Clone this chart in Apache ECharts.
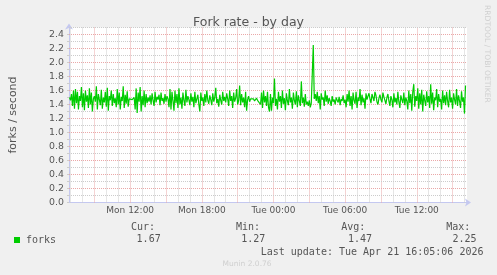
<!DOCTYPE html>
<html>
<head>
<meta charset="utf-8">
<script src="https://cdn.jsdelivr.net/npm/echarts@6/dist/echarts.min.js"></script>
<style>
html,body{margin:0;padding:0;background:#f0f0f0;}
#chart{width:497px;height:275px;}
</style>
</head>
<body>
<div id="chart"></div>
<script>
// ---- data (fork rate, 5-minute samples, Mon 06:55 .. Tue 16:05) ----
const sampleStartMin = 415;   // minutes since Mon 00:00
const sampleStepMin = 5;
const forkRate = [
1.50,1.46,1.55,1.38,1.60,1.34,1.62,1.42,1.58,1.33,1.52,1.45,1.65,1.36,1.56,1.32,1.60,1.44,1.53,1.35,
1.63,1.40,1.57,1.30,1.48,1.52,1.44,1.66,1.33,1.55,1.47,1.39,1.61,1.34,1.50,1.43,1.58,1.37,1.64,1.31,
1.52,1.46,1.60,1.38,1.55,1.42,1.49,1.36,1.62,1.40,1.57,1.33,1.51,1.45,1.66,1.35,1.54,1.41,1.59,1.37,
1.48,1.46,1.49,1.47,1.45,1.50,1.33,1.63,1.28,1.57,1.44,1.65,1.30,1.52,1.39,1.60,1.36,1.55,1.42,1.50,
1.44,1.53,1.40,1.56,1.46,1.38,1.58,1.43,1.51,1.47,1.54,1.39,1.57,1.45,1.49,1.41,1.55,1.44,1.52,1.48,
1.36,1.62,1.33,1.58,1.45,1.31,1.60,1.42,1.55,1.35,1.63,1.40,1.50,1.34,1.57,1.46,1.38,1.61,1.43,1.52,
1.47,1.39,1.56,1.44,1.51,1.36,1.58,1.42,1.48,1.54,1.40,1.30,1.57,1.45,1.50,1.38,1.55,1.43,1.60,1.46,
1.41,1.53,1.47,1.39,1.56,1.44,1.50,1.64,1.42,1.48,1.37,1.54,1.46,1.40,1.58,1.45,1.51,1.43,1.56,1.48,
1.38,1.60,1.45,1.52,1.35,1.57,1.44,1.49,1.62,1.40,1.46,1.67,1.39,1.55,1.43,1.50,1.36,1.58,1.31,1.47,
1.52,1.44,1.48,1.47,1.46,1.48,1.45,1.47,1.49,1.46,1.48,1.47,1.40,1.57,1.35,1.60,1.43,1.52,1.38,1.58,
1.36,1.30,1.55,1.31,1.50,1.42,1.77,1.38,1.48,1.33,1.58,1.44,1.52,1.35,1.60,1.41,1.49,1.32,1.56,1.45,
1.39,1.62,1.43,1.50,1.34,1.57,1.46,1.40,1.59,1.36,1.53,1.45,1.38,1.73,1.42,1.50,1.37,1.55,1.40,1.44,
1.38,1.46,1.36,1.42,1.40,2.25,1.48,1.55,1.45,1.58,1.42,1.52,1.33,1.56,1.47,1.50,1.38,1.60,1.44,1.53,
1.41,1.49,1.45,1.38,1.52,1.44,1.47,1.40,1.50,1.46,1.43,1.51,1.39,1.48,1.45,1.53,1.42,1.47,1.36,1.55,
1.44,1.60,1.38,1.52,1.33,1.57,1.46,1.41,1.58,1.35,1.50,1.45,1.62,1.39,1.54,1.43,1.49,1.34,1.56,1.47,
1.52,1.56,1.48,1.42,1.55,1.50,1.45,1.58,1.53,1.44,1.40,1.49,1.54,1.47,1.43,1.57,1.51,1.46,1.41,1.50,
1.55,1.45,1.38,1.52,1.47,1.36,1.56,1.43,1.49,1.40,1.58,1.44,1.35,1.53,1.47,1.42,1.57,1.39,1.50,1.45,
1.33,1.60,1.42,1.55,1.31,1.58,1.69,1.37,1.52,1.45,1.63,1.34,1.56,1.40,1.61,1.30,1.54,1.46,1.38,1.59,
1.43,1.52,1.35,1.69,1.41,1.57,1.32,1.50,1.46,1.62,1.36,1.55,1.44,1.48,1.33,1.60,1.42,1.53,1.39,1.58,
1.45,1.36,1.61,1.43,1.50,1.34,1.56,1.47,1.40,1.62,1.38,1.53,1.45,1.35,1.59,1.44,1.50,1.27,1.67
];

// x axis: minutes since Mon 00:00
const xMinMin = 412.5;   // ~Mon 06:52
const xMaxMin = 2412.5;  // ~Tue 16:12
const xTickMinutes = [720, 1080, 1440, 1800, 2160];
const xTickLabels = ['Mon 12:00', 'Mon 18:00', 'Tue 00:00', 'Tue 06:00', 'Tue 12:00'];

const yMin = 0, yMax = 2.5, yStep = 0.1;

const title = 'Fork rate - by day';
const yName = 'forks / second';
const seriesName = 'forks';
const statNames = ['Cur:', 'Min:', 'Avg:', 'Max:'];
const statValues = ['1.67', '1.27', '1.47', '2.25'];
const lastUpdate = 'Last update: Tue Apr 21 16:05:06 2026';
const sideText = 'RRDTOOL / TOBI OETIKER';
const footer = 'Munin 2.0.76';

// ---- build ----
const seriesData = forkRate.map((v, i) => [sampleStartMin + i * sampleStepMin, v]);

const RED = '#eaa8a8', GRAY = '#cccccc', AXIS = '#c4c8f0';
const dash = [1, 1];

const gridLines = [];
// vertical grid: every hour (gray), every 3 hours (red)
for (let m = Math.ceil(xMinMin / 60) * 60; m <= xMaxMin; m += 60) {
  gridLines.push({ xAxis: m, lineStyle: { color: m % 180 === 0 ? RED : GRAY, type: dash, width: 1 } });
}
// horizontal grid: every 0.1 (gray), every 0.2 (red)
const nSteps = Math.round((yMax - yMin) / yStep);
for (let k = 1; k <= nSteps; k++) {
  gridLines.push({ yAxis: +(yMin + k * yStep).toFixed(1), lineStyle: { color: k % 2 === 0 ? RED : GRAY, type: dash, width: 1 } });
}

const mono = 'DejaVu Sans Mono';
const txtColor = '#555';
const legendGraphics = [
  { type: 'rect', shape: { x: 14, y: 237, width: 6, height: 6 }, style: { fill: '#00cc00' } },
  { type: 'text', x: 26, y: 240, style: { text: seriesName, font: '10px "' + mono + '"', fill: txtColor, textVerticalAlign: 'middle' } }
];
const statNameX = [131, 236, 341.3, 446.2];
const statValX = [136.6, 241.3, 348, 452.5];
statNames.forEach((s, i) => {
  legendGraphics.push({ type: 'text', x: statNameX[i], y: 227.3, style: { text: s, font: '10px "' + mono + '"', fill: txtColor, textVerticalAlign: 'middle' } });
  legendGraphics.push({ type: 'text', x: statValX[i], y: 239.5, style: { text: statValues[i], font: '10px "' + mono + '"', fill: txtColor, textVerticalAlign: 'middle' } });
});
legendGraphics.push({ type: 'text', x: 260.7, y: 252, style: { text: lastUpdate, font: '10px "' + mono + '"', fill: txtColor, textVerticalAlign: 'middle' } });
legendGraphics.push({ type: 'text', x: 222.5, y: 264.5, style: { text: footer, font: '7.5px "DejaVu Sans"', fill: '#cfcfcf', textVerticalAlign: 'middle' } });
legendGraphics.push({ type: 'text', x: 487.3, y: 5, rotation: -Math.PI / 2, style: { text: sideText, font: '7.6px "DejaVu Sans"', fill: '#d0d0d0', textVerticalAlign: 'middle', textAlign: 'left' } });

const chart = echarts.init(document.getElementById('chart'), null, { renderer: 'canvas' });
chart.setOption({
  backgroundColor: '#f0f0f0',
  animation: false,
  title: {
    text: title, left: 'center', top: 11,
    textStyle: { fontFamily: 'DejaVu Sans', fontSize: 12.5, fontWeight: 'normal', color: txtColor }
  },
  grid: { left: 67, top: 27.5, width: 400, height: 175, show: true, backgroundColor: '#ffffff', borderWidth: 0 },
  xAxis: {
    type: 'value', min: xMinMin, max: xMaxMin, interval: 7.5,
    axisLine: { show: true, lineStyle: { color: AXIS, width: 1 }, symbol: ['none', 'arrow'], symbolSize: [6, 6], symbolOffset: [0, 4] },
    axisTick: { show: false },
    axisLabel: {
      show: true, margin: 3.5, color: txtColor, fontFamily: 'DejaVu Sans', fontSize: 9,
      showMinLabel: true, showMaxLabel: true, hideOverlap: false,
      formatter: v => { const i = xTickMinutes.indexOf(Math.round(v)); return i >= 0 ? xTickLabels[i] : ''; }
    },
    splitLine: { show: false }
  },
  yAxis: {
    type: 'value', min: yMin, max: yMax, interval: yStep,
    name: yName, nameLocation: 'middle', nameGap: 50, nameRotate: 90,
    nameTextStyle: { fontFamily: 'DejaVu Sans', fontSize: 11, color: txtColor },
    axisLine: { show: true, lineStyle: { color: AXIS, width: 1 }, symbol: ['none', 'arrow'], symbolSize: [6, 6], symbolOffset: [0, 4] },
    axisTick: { show: true, length: 2, lineStyle: { color: '#cccccc' } },
    axisLabel: {
      margin: 5, color: txtColor, fontFamily: 'DejaVu Sans', fontSize: 9.4,
      formatter: v => (Math.round(v * 10) % 2 === 0 ? v.toFixed(1) : '')
    },
    splitLine: { show: false }
  },
  series: [{
    name: seriesName, type: 'line', data: seriesData, showSymbol: false, symbol: 'none',
    lineStyle: { color: '#00cc00', width: 1.2 }, z: 5,
    markLine: { silent: true, symbol: ['none', 'none'], label: { show: false }, animation: false, z: 1, data: gridLines }
  }],
  graphic: legendGraphics
});
</script>
</body>
</html>
